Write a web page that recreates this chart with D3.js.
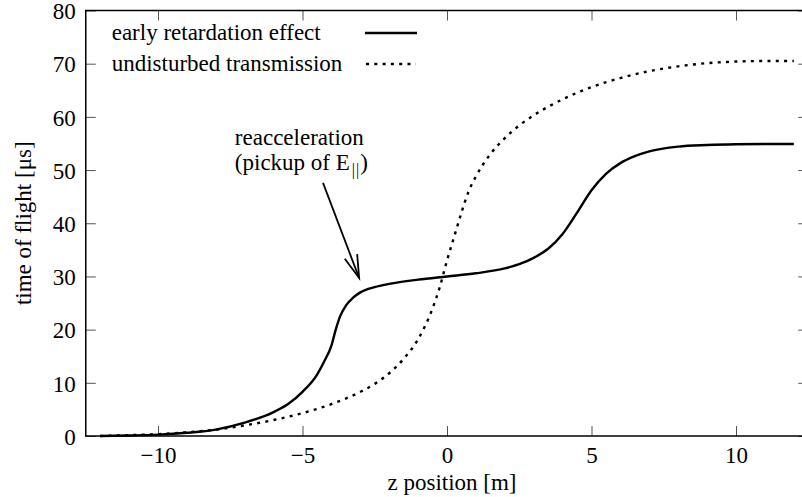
<!DOCTYPE html>
<html>
<head>
<meta charset="utf-8">
<script src="https://cdn.jsdelivr.net/npm/d3@7/dist/d3.min.js"></script>
<style>
  body { margin: 0; background: #fff; }
  svg { display: block; font-family: "Liberation Serif", "Times New Roman", serif; }
</style>
</head>
<body>
<svg id="chart" width="802" height="497"></svg>
<script>
// z positions [m] and time of flight [us]
const earlyZ = [-12, -11, -10, -9, -8, -7, -6, -5.5, -5, -4.5, -4.25, -4, -3.85, -3.7, -3.5, -3.25, -3, -2.5, -2, -1, 0, 1, 2, 2.5, 3, 3.5, 4, 4.5, 5, 5.5, 6, 6.5, 7, 8, 9, 10, 11, 12];
const earlyTof = [0, 0.1, 0.25, 0.6, 1.2, 2.5, 4.5, 6, 8.3, 11.5, 14, 17, 20, 22.5, 24.5, 26, 27, 28, 28.6, 29.4, 30, 30.6, 31.5, 32.3, 33.5, 35.2, 38, 42, 46.2, 49.3, 51.3, 52.6, 53.5, 54.4, 54.7, 54.85, 54.9, 54.9];

const undistZ = [-12, -11, -10, -9, -8, -7, -6, -5, -4, -3, -2.5, -2, -1.5, -1, -0.5, -0.25, 0, 0.25, 0.5, 0.75, 1, 1.5, 2, 2.5, 3, 4, 5, 6, 7, 8, 9, 10, 11, 12];
const undistTof = [0, 0.15, 0.35, 0.7, 1.2, 2.0, 3.0, 4.3, 6.0, 8.3, 9.8, 11.8, 14.5, 18.2, 24, 28, 33, 37.5, 42, 46, 48.8, 53, 56, 58.4, 60.3, 63.3, 65.6, 67.3, 68.6, 69.5, 70.1, 70.4, 70.5, 70.5];

const xTicks = [-10, -5, 0, 5, 10];
const yTicks = [0, 10, 20, 30, 40, 50, 60, 70, 80];
const seriesNames = ["early retardation effect", "undisturbed transmission"];
const noteLines = ["reacceleration", "(pickup of E"];
const arrowFrom = [-4.29, 47.6];
const arrowTo = [-3.04, 29.7];

const svg = d3.select("#chart");
const pLeft = 85.75, pRight = 808.25, pTop = 10.5, pBottom = 436;
const x = d3.scaleLinear().domain([-12.5, 12.5]).range([pLeft, pRight]);
const y = d3.scaleLinear().domain([0, 80]).range([pBottom, pTop]);

const fontSize = 23;

// ticks (inward, on all four sides)
const tickColor = "#555";
svg.append("g").attr("transform", `translate(0,${pBottom})`)
  .call(d3.axisBottom(x).tickValues(xTicks).tickSize(-10).tickPadding(0))
  .call(g => g.select(".domain").remove())
  .call(g => g.selectAll("line").attr("stroke", tickColor))
  .call(g => g.selectAll("text").attr("y", 27).attr("dy", null)
    .attr("font-size", fontSize).attr("font-family", "Liberation Serif").attr("fill", "#000"));

svg.append("g").attr("transform", `translate(0,${pTop})`)
  .call(d3.axisTop(x).tickValues(xTicks).tickSize(-10).tickFormat(""))
  .call(g => g.select(".domain").remove())
  .call(g => g.selectAll("line").attr("stroke", tickColor));

svg.append("g").attr("transform", `translate(${pLeft},0)`)
  .call(d3.axisLeft(y).tickValues(yTicks).tickSize(-10).tickPadding(0))
  .call(g => g.select(".domain").remove())
  .call(g => g.selectAll("line").attr("stroke", tickColor))
  .call(g => g.selectAll("text").attr("x", -10).attr("dy", "0.36em")
    .attr("font-size", fontSize).attr("font-family", "Liberation Serif").attr("fill", "#000"));

svg.append("g").attr("transform", `translate(${pRight},0)`)
  .call(d3.axisRight(y).tickValues(yTicks).tickSize(-10).tickFormat(""))
  .call(g => g.select(".domain").remove())
  .call(g => g.selectAll("line").attr("stroke", tickColor));

// frame
svg.append("rect")
  .attr("x", pLeft).attr("y", pTop)
  .attr("width", pRight - pLeft).attr("height", pBottom - pTop)
  .attr("fill", "none").attr("stroke", "#000").attr("stroke-width", 1.5);

// axis titles
svg.append("text")
  .attr("x", 452).attr("y", 490)
  .attr("text-anchor", "middle").attr("font-size", fontSize)
  .text("z position [m]");

svg.append("text")
  .attr("transform", `translate(31,${(pTop + pBottom) / 2}) rotate(-90)`)
  .attr("text-anchor", "middle").attr("font-size", fontSize)
  .text("time of flight [\u03bcs]");

// curves
const line = d3.line().curve(d3.curveMonotoneX);

svg.append("path")
  .attr("d", line(undistZ.map((z, i) => [x(z), y(undistTof[i])])))
  .attr("fill", "none").attr("stroke", "#000")
  .attr("stroke-width", 2.4).attr("stroke-dasharray", "3,5.3");

svg.append("path")
  .attr("d", line(earlyZ.map((z, i) => [x(z), y(earlyTof[i])])))
  .attr("fill", "none").attr("stroke", "#000")
  .attr("stroke-width", 2.4);

// legend
const legend = svg.append("g");
legend.append("text").attr("x", 111.7).attr("y", 40).attr("font-size", fontSize).text(seriesNames[0]);
legend.append("text").attr("x", 111.7).attr("y", 71).attr("font-size", fontSize).text(seriesNames[1]);
legend.append("line").attr("x1", 365).attr("x2", 417).attr("y1", 33).attr("y2", 33)
  .attr("stroke", "#000").attr("stroke-width", 2.4);
legend.append("line").attr("x1", 366).attr("x2", 416).attr("y1", 64).attr("y2", 64)
  .attr("stroke", "#000").attr("stroke-width", 2.4).attr("stroke-dasharray", "3,5.3");

// annotation
const note = svg.append("text").attr("font-size", fontSize);
note.append("tspan").attr("x", x(-7.34)).attr("y", y(54.7)).text(noteLines[0]);
note.append("tspan").attr("x", x(-7.34)).attr("y", y(54.7) + 25).text(noteLines[1]);
note.append("tspan").attr("font-size", 16).attr("dx", 2).attr("dy", 5).attr("letter-spacing", 1).text("||");
note.append("tspan").attr("dy", -5).text(")");

const x1 = x(arrowFrom[0]), y1 = y(arrowFrom[1]);
const x2 = x(arrowTo[0]), y2 = y(arrowTo[1]);
const ang = Math.atan2(y2 - y1, x2 - x1);
const headLen = 24, headAng = 16 * Math.PI / 180;
svg.append("line")
  .attr("x1", x1).attr("y1", y1).attr("x2", x2).attr("y2", y2)
  .attr("stroke", "#000").attr("stroke-width", 1.8);
svg.append("path")
  .attr("d", `M${x2 - headLen * Math.cos(ang - headAng)},${y2 - headLen * Math.sin(ang - headAng)}L${x2},${y2}L${x2 - headLen * Math.cos(ang + headAng)},${y2 - headLen * Math.sin(ang + headAng)}`)
  .attr("fill", "none").attr("stroke", "#000").attr("stroke-width", 1.8);
</script>
</body>
</html>
